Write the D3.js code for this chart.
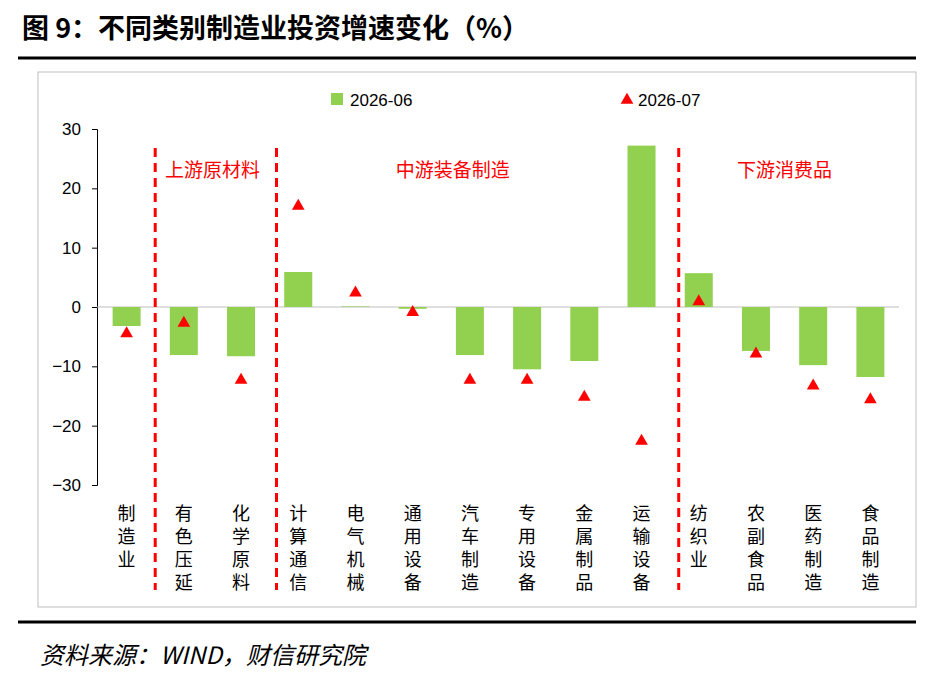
<!DOCTYPE html>
<html><head><meta charset="utf-8">
<script src="https://cdn.jsdelivr.net/npm/d3@7"></script>
<style>body{margin:0;background:#fff;font-family:"Noto Sans CJK SC","Noto Sans",sans-serif}</style>
</head><body><svg id="c" width="935" height="678"></svg>
<script>
const categories = ["制造业","有色压延","化学原料","计算通信","电气机械","通用设备","汽车制造","专用设备","金属制品","运输设备","纺织业","农副食品","医药制造","食品制造"];
const jun = [-3.2,-8.1,-8.3,5.9,0.1,-0.3,-8.1,-10.5,-9.1,27.2,5.7,-7.4,-9.8,-11.8];
const jul = [-4.5,-2.7,-12.3,17.0,2.4,-0.9,-12.3,-12.3,-15.2,-22.6,0.9,-7.9,-13.3,-15.6];
const yTicks = [30,20,10,0,-10,-20,-30];
const groups = [{name:"上游原材料",at:1.5},{name:"中游装备制造",at:5.7},{name:"下游消费品",at:11.5}];
const dividers = [0.5,2.62,9.65];

const svg = d3.select("#c");
const green = "#92D050", red = "#FF0000";

svg.append("text").attr("x",22).attr("y",38).attr("font-size",27).attr("font-weight","bold")
  .text("图 9：不同类别制造业投资增速变化（%）");
svg.append("line").attr("x1",18).attr("x2",916).attr("y1",58).attr("y2",58).attr("stroke","#000").attr("stroke-width",3);
svg.append("rect").attr("x",38).attr("y",72).attr("width",878).attr("height",535).attr("fill","none").attr("stroke","#bfbfbf");

const x = d3.scaleBand().domain(d3.range(categories.length)).range([98,899]);
const y = d3.scaleLinear().domain([-30,30]).range([485,129]);
const cx = i => 98 + x.step()*(i+0.5);

const ya = svg.append("g").attr("transform","translate(97,0)")
  .call(d3.axisLeft(y).tickValues(yTicks).tickSize(5).tickFormat(d3.format("d")));
ya.select(".domain").attr("stroke","#000");
ya.selectAll("text").attr("font-size",17).attr("font-family","Liberation Sans, Arial").attr("fill","#000").attr("x",-16);

svg.append("line").attr("x1",97).attr("x2",899).attr("y1",y(0)).attr("y2",y(0)).attr("stroke","#bfbfbf");

const bw = 28;
svg.selectAll(".bar").data(jun).enter().append("rect")
  .attr("x",(d,i)=>cx(i)-bw/2).attr("width",bw)
  .attr("y",d=>y(Math.max(0,d))).attr("height",d=>Math.abs(y(d)-y(0)))
  .attr("fill",green);

const tri = d3.symbol().type(d3.symbolTriangle).size(70);
svg.selectAll(".tri").data(jul).enter().append("path")
  .attr("d",tri).attr("fill",red)
  .attr("transform",(d,i)=>`translate(${cx(i)},${y(d)})`);

dividers.forEach(p=>{
  const xx = cx(p);
  svg.append("line").attr("x1",xx).attr("x2",xx).attr("y1",148).attr("y2",590)
    .attr("stroke",red).attr("stroke-width",3).attr("stroke-dasharray","9,6");
});

groups.forEach(g=>{
  svg.append("text").attr("x",cx(g.at)).attr("y",177).attr("text-anchor","middle")
    .attr("font-size",19).attr("fill",red).text(g.name);
});

categories.forEach((c,i)=>{
  [...c].forEach((ch,k)=>{
    svg.append("text").attr("font-size",18).attr("text-anchor","middle").attr("fill","#000")
      .attr("x",cx(i)).attr("y",520+k*23).text(ch);
  });
});

svg.append("rect").attr("x",331).attr("y",93).attr("width",12).attr("height",12).attr("fill",green);
svg.append("text").attr("x",350).attr("y",106).attr("font-size",17).attr("font-family","Liberation Sans, Arial").text("2026-06");
svg.append("path").attr("d",tri).attr("fill",red).attr("transform","translate(627,100)");
svg.append("text").attr("x",638).attr("y",106).attr("font-size",17).attr("font-family","Liberation Sans, Arial").text("2026-07");

svg.append("line").attr("x1",18).attr("x2",916).attr("y1",622).attr("y2",622).attr("stroke","#000").attr("stroke-width",3);
svg.append("text").attr("x",40).attr("y",664).attr("font-size",24).attr("font-style","italic")
  .text("资料来源：WIND，财信研究院");
</script></body></html>
